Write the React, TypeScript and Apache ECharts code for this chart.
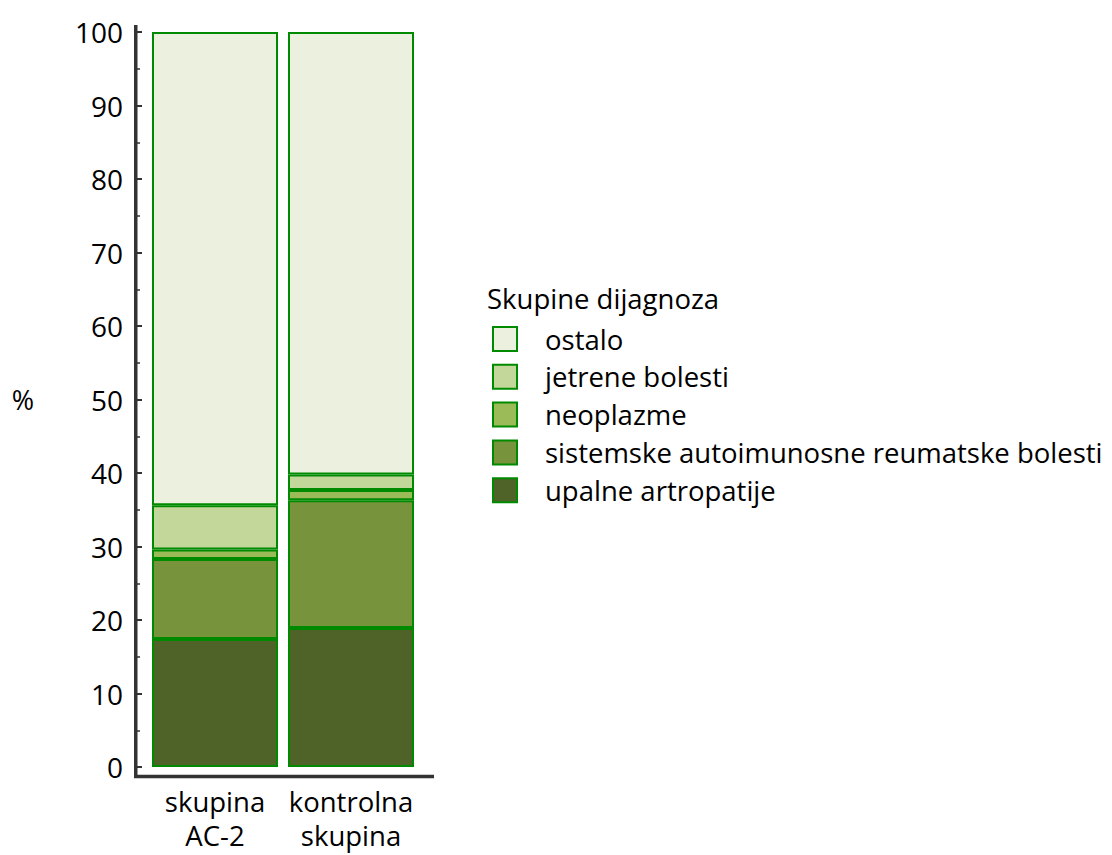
import React, { useEffect, useRef } from "react";
import * as echarts from "echarts";

const categories = ["skupina\nAC-2", "kontrolna\nskupina"];
const seriesNames = [
  "upalne artropatije",
  "sistemske autoimunosne reumatske bolesti",
  "neoplazme",
  "jetrene bolesti",
  "ostalo",
];
const upalne = [17.4, 18.9];
const sistemske = [10.9, 17.4];
const neoplazme = [1.3, 1.4];
const jetrene = [6.0, 2.1];
const ostalo = [64.4, 60.2];
const yTicks = [0, 100, 10];
const colors = ["#4F6228", "#77933C", "#9BBB59", "#C4D79B", "#EBF1DE"];

const FONT = "Open Sans";

export default function App() {
  const ref = useRef<HTMLDivElement>(null);
  useEffect(() => {
    if (!ref.current) return;
    const chart = echarts.init(ref.current, null, { renderer: "svg" });
    const values = [upalne, sistemske, neoplazme, jetrene, ostalo];
    chart.setOption({
      animation: false,
      textStyle: { fontFamily: FONT },
      title: {
        text: "Skupine dijagnoza",
        left: 487,
        top: 284,
        padding: 0,
        textStyle: { fontFamily: FONT, fontSize: 27.5, fontWeight: "normal", color: "#000" },
      },
      legend: {
        orient: "vertical",
        left: 492,
        top: 325,
        padding: 0,
        itemWidth: 24,
        itemHeight: 24,
        itemGap: 9.8,
        icon: "rect",
        data: [...seriesNames].reverse(),
        itemStyle: { borderColor: "#008a00", borderWidth: 2 },
        textStyle: {
          fontFamily: FONT,
          fontSize: 27.5,
          color: "#000",
          lineHeight: 26,
          padding: [0, 0, 0, 23],
        },
      },
      grid: { left: 147, width: 272, top: 32, height: 735 },
      xAxis: {
        type: "category",
        data: categories,
        offset: 8,
        axisLine: { show: false },
        axisTick: {
          show: true,
          inside: true,
          alignWithLabel: true,
          length: 5,
          lineStyle: { color: "#333", width: 2 },
        },
        axisLabel: {
          interval: 0,
          margin: 9,
          fontFamily: FONT,
          fontSize: 27.5,
          lineHeight: 34,
          color: "#000",
        },
      },
      yAxis: {
        type: "value",
        min: yTicks[0],
        max: yTicks[1],
        interval: yTicks[2],
        offset: 10,
        name: "%",
        nameLocation: "middle",
        nameRotate: 0,
        nameGap: 103,
        nameTextStyle: { fontFamily: FONT, fontSize: 27, color: "#000" },
        axisLine: { show: false },
        splitLine: { show: false },
        axisTick: { show: true, inside: true, length: 5, lineStyle: { color: "#333", width: 2 } },
        minorTick: { show: true, splitNumber: 2, length: 3, lineStyle: { color: "#333", width: 1.5 } },
        axisLabel: { margin: 14, fontFamily: FONT, fontSize: 28, color: "#000" },
      },
      graphic: [
        {
          type: "line",
          shape: { x1: 135.75, y1: 25, x2: 135.75, y2: 778 },
          style: { stroke: "#333", lineWidth: 3.5 },
        },
        {
          type: "line",
          shape: { x1: 134, y1: 776.5, x2: 434, y2: 776.5 },
          style: { stroke: "#333", lineWidth: 3.5 },
        },
      ],
      series: seriesNames.map((name, i) => ({
        name,
        type: "bar",
        stack: "total",
        barWidth: 126,
        data: values[i],
        itemStyle: { color: colors[i], borderColor: "#008a00", borderWidth: 2 },
      })),
    });
    return () => chart.dispose();
  }, []);
  return (
    <div
      ref={ref}
      style={{ position: "fixed", left: 0, top: 0, width: 1112, height: 855, background: "#fff" }}
    />
  );
}
